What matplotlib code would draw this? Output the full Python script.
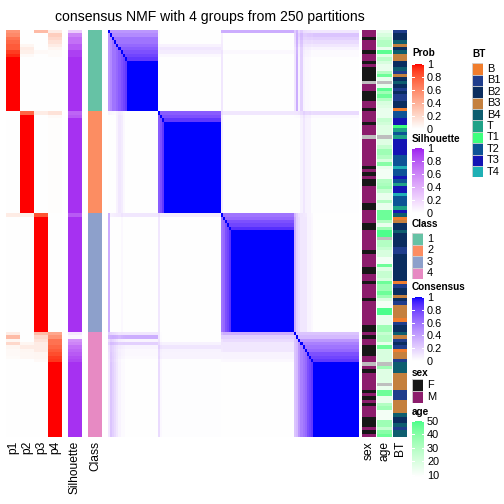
import numpy as np
import matplotlib
matplotlib.use("Agg")
import matplotlib.pyplot as plt
from matplotlib.colors import ListedColormap, to_rgb
from matplotlib.patches import Rectangle

plt.rcParams['font.family'] = ['Liberation Sans', 'DejaVu Sans']

# ---- data (120 samples, ordered as in the heatmap) ----
group_sizes = [24, 30, 35, 31]

p1 = ([0.55, 0.6, 0.7, 0.75, 0.8, 0.8, 0.9, 0.95] + [1.0] * 16
      + [0.0] * 30
      + [0.1] + [0.0] * 34
      + [0.1, 0.35, 0.05, 0.2, 0.05, 0.03, 0.03, 0.02, 0.0] + [0.0] * 22)
p2 = ([0.0, 0.0, 0.0, 0.0, 0.05, 0.1, 0.08, 0.03] + [0.0] * 16
      + [0.75] + [1.0] * 29
      + [0.08] + [0.0] * 34
      + [0.0, 0.0, 0.0, 0.05, 0.1, 0.05, 0.04, 0.04, 0.0] + [0.0] * 22)
p3 = ([0.35, 0.0, 0.0, 0.0, 0.0, 0.0, 0.03, 0.0] + [0.0] * 16
      + [0.1] + [0.0] * 29
      + [0.82] + [1.0] * 34
      + [0.35, 0.2, 0.15, 0.1, 0.1, 0.1, 0.05, 0.05, 0.03] + [0.0] * 22)
p4 = ([0.1, 0.25, 0.2, 0.15, 0.1, 0.05, 0.02, 0.02] + [0.0] * 16
      + [0.15, 0.03] + [0.01] * 28
      + [0.0] * 35
      + [0.45, 0.55, 0.7, 0.7, 0.75, 0.8, 0.85, 0.9, 0.92] + [1.0] * 22)

silhouette = ([0.25, 0.6, 0.7, 0.7, 0.8, 0.8, 0.9, 0.9] + [0.95] * 16
              + [0.75, 0.8] + [0.95] * 28
              + [0.8] + [0.95] * 34
              + [0.12, 0.05, 0.55, 0.6, 0.7, 0.75, 0.8, 0.85, 0.88] + [0.95] * 22)

# within-class consensus strength of each sample
within_cons = ([0.45, 0.5, 0.6, 0.6, 0.65, 0.7, 0.75, 0.8, 0.85] + [1.0] * 15
               + [0.7, 0.75, 0.85] + [1.0] * 27
               + [0.6, 0.65, 0.75, 0.8, 0.88] + [1.0] * 30
               + [0.25, 0.3, 0.45, 0.55, 0.6, 0.65, 0.75, 0.8, 0.85] + [1.0] * 22)

sex = ("MMFMMMFMMFMFFFFNMMFFFMMF"
       "MMMFMMMNMMMMMMMM"
       "FMFMFFMMMMMFFMMMMFFM"
       "MMMMMFMMMMFFMMFMMMMF"
       "MMMMMMMFFMFMMFFFMMNM"
       "FMMMMMFMFMFMMMFFFMFM")

nan = np.nan
age = [15, 20, 25, 30, 30, 15, 48, 18, 28, 20, 15, 15, 30, 45, 15, nan, 15, 48, 35, 45, 30, 20, 18, 15,
       15, 15, 25, 22, 18, 18, 18, nan, 18, 18, 25, 35, 35, 30, 20, 40,
       15, 12, 12, 12, 30, 32, 35, 25, 15, 15, 30, 15, 15, 45, 45, 45, 30, 15, 35, 50,
       50, nan, 30, 30, 25, 20, 20, 12, 12, 45, 18, 25, 25, 20, 45, 35, 35, 45, 35, 20,
       12, 12, 50, 50, 15, 15, 15, 35, 35, 25, 30, 30, 15, 45, 20, 20, 20, 20, nan, 35,
       18, 18, 18, 18, nan, 15, 45, 45, 15, 15, 30, 35, 12, 12, 12, 35, 35, 25, 40, 45]

bt = ["B1", "B2", "B2", "B4", "B3", "B2", "B4", "B3", "B3", "B2", "B2", "B4", "B1", "B3", "B2", "B4",
      "B2", "B1", "B2", "B1", "B1", "B2", "B2", "B",
      "T2", "T2", "T3", "T3", "T1", "T", "T2", "T", "T3", "T3", "T3", "T3", "T3", "T2", "T2", "T2",
      "T4", "T2", "T2", "T3", "T2", "T", "T3", "T3", "T4", "T2", "T2", "T2", "T", "T3",
      "B4", "B", "B3", "B2", "B2", "B4",
      "B2", "B2", "B2", "B2", "B1", "B1", "B2", "B2", "B2", "B2", "B2", "B2", "B2", "B2", "B", "B1",
      "B2", "B2", "B3", "B2",
      "B1", "B3", "B3", "B3", "B3", "B", "B1", "B2", "B2", "B4", "B3", "B1", "B2", "B1", "B", "B3",
      "B3", "B1", "B4", "B4",
      "B4", "B3", "B3", "B3", "B3", "B3", "B1", "B1", "B1", "B3", "B3", "B3", "B3", "B4", "B2", "B2",
      "B4", "B1", "B4", "B4"]

class_colors = ["#66C2A5", "#FC8D62", "#8DA0CB", "#E78AC3"]
sex_colors = {"F": "#171717", "M": "#8C1C6C", "N": "#BEBEBE"}
bt_levels = ["B", "B1", "B2", "B3", "B4", "T", "T1", "T2", "T3", "T4"]
bt_colors = ["#F07D2D", "#1F3D8C", "#0A2D5F", "#C4803E", "#0E5E6F",
             "#1FA287", "#3DFF7D", "#0D5396", "#1414B4", "#1FB0B5"]
age_top = "#4CFF8C"


# ---- colour ramps interpolated in LAB space (like colorRamp2) ----
M_RGB2XYZ = np.array([[0.4124, 0.3576, 0.1805],
                      [0.2126, 0.7152, 0.0722],
                      [0.0193, 0.1192, 0.9505]])
WHITE_XYZ = np.array([0.95047, 1.0, 1.08883])


def rgb2lab(rgb):
    c = np.asarray(rgb, float)
    lin = np.where(c <= 0.04045, c / 12.92, ((c + 0.055) / 1.055) ** 2.4)
    xyz = M_RGB2XYZ @ lin / WHITE_XYZ
    d = 6 / 29
    f = np.where(xyz > d ** 3, np.cbrt(xyz), xyz / (3 * d * d) + 4 / 29)
    return np.array([116 * f[1] - 16, 500 * (f[0] - f[1]), 200 * (f[1] - f[2])])


def lab2rgb(lab):
    L, a, b = lab
    fy = (L + 16) / 116
    f = np.array([fy + a / 500, fy, fy - b / 200])
    d = 6 / 29
    xyz = np.where(f > d, f ** 3, 3 * d * d * (f - 4 / 29)) * WHITE_XYZ
    lin = np.linalg.solve(M_RGB2XYZ, xyz)
    lin = np.clip(lin, 0, 1)
    c = np.where(lin <= 0.0031308, 12.92 * lin, 1.055 * lin ** (1 / 2.4) - 0.055)
    return np.clip(c, 0, 1)


def lab_cmap(c0, c1, n=256):
    l0, l1 = rgb2lab(to_rgb(c0)), rgb2lab(to_rgb(c1))
    return ListedColormap([lab2rgb(l0 + (l1 - l0) * t) for t in np.linspace(0, 1, n)])


prob_cmap = lab_cmap("white", "red")
sil_cmap = lab_cmap("white", "#A020F0")
cons_cmap = lab_cmap("white", "blue")
age_cmap = lab_cmap("white", age_top)
age_cmap.set_bad("#BEBEBE")

# ---- derived tables ----
classes = np.repeat(np.arange(4), group_sizes)
prob = np.column_stack([p1, p2, p3, p4])
cons = prob @ prob.T
wc = np.array(within_cons)
same = classes[:, None] == classes[None, :]
cons[same] = np.minimum(wc[:, None], wc[None, :])[same]
np.fill_diagonal(cons, 1.0)
cons = np.clip(cons, 0, 1)

fig = plt.figure(figsize=(7, 7), dpi=72)
W = H = 504.0


def add_ax(x0, y0, x1, y1):
    ax = fig.add_axes([x0 / W, 1 - y1 / H, (x1 - x0) / W, (y1 - y0) / H])
    ax.set_axis_off()
    return ax


top, bot = 30, 437
kw = dict(aspect="auto", interpolation="nearest")

add_ax(6, top, 62, bot).imshow(prob, cmap=prob_cmap, vmin=0, vmax=1, **kw)
add_ax(68, top, 82, bot).imshow(np.array(silhouette)[:, None], cmap=sil_cmap, vmin=0, vmax=1, **kw)
add_ax(88, top, 102, bot).imshow(classes[:, None], cmap=ListedColormap(class_colors), vmin=-0.5, vmax=3.5, **kw)
add_ax(108, top, 359, bot).imshow(cons, cmap=cons_cmap, vmin=0, vmax=1, **kw)
add_ax(362, top, 376, bot).imshow(np.array([[to_rgb(sex_colors[s])] for s in sex]), **kw)
add_ax(377, top, 392, bot).imshow(np.ma.masked_invalid(np.array(age, float))[:, None],
                                  cmap=age_cmap, vmin=8.5, vmax=50, **kw)
add_ax(393, top, 407, bot).imshow(np.array([[to_rgb(bt_colors[bt_levels.index(b)])] for b in bt]), **kw)

# column labels
for x, lab in [(13, "p1"), (27, "p2"), (41, "p3"), (55, "p4"), (75, "Silhouette"),
               (95, "Class"), (369, "sex"), (384.5, "age"), (400, "BT")]:
    fig.text(x / W, 1 - 441 / H, lab, rotation=90, ha="center", va="top", fontsize=12)

fig.text(210 / W, 1 - 17 / H, "consensus NMF with 4 groups from 250 partitions",
         ha="center", va="center", fontsize=14)


# ---- legends ----
def bar_legend(title, y_title, y0, y1, cmap, vmin, vmax, ticks, labels):
    fig.text(412 / W, 1 - y_title / H, title, ha="left", va="bottom", fontsize=10, fontweight="bold")
    ax = fig.add_axes([412 / W, 1 - y1 / H, 12 / W, (y1 - y0) / H])
    grad = np.linspace(vmax, vmin, 100)[:, None]
    ax.imshow(grad, cmap=cmap, vmin=vmin, vmax=vmax, aspect="auto", extent=[0, 1, vmin, vmax])
    for t in ticks:
        ax.plot([0, 0.2], [t, t], color="white", lw=1)
        ax.plot([0.8, 1], [t, t], color="white", lw=1)
    ax.set_xlim(0, 1)
    ax.set_ylim(vmin, vmax)
    ax.set_xticks([])
    ax.yaxis.tick_right()
    ax.set_yticks(ticks, labels)
    ax.tick_params(axis="y", length=0, pad=3, labelsize=11)
    for s in ax.spines.values():
        s.set_visible(False)


def box_legend(title, x, y_title, y_first, step, colors, labels):
    fig.text(x / W, 1 - y_title / H, title, ha="left", va="bottom", fontsize=10, fontweight="bold")
    k = len(colors)
    ax = fig.add_axes([x / W, 1 - (y_first - step / 2 + k * step) / H, 11 / W, k * step / H])
    ax.set_axis_off()
    ax.set_xlim(0, 1)
    ax.set_ylim(k, 0)
    for i, c in enumerate(colors):
        ax.add_patch(Rectangle((0, i), 1, 1, facecolor=c, edgecolor="#D0D0D0", lw=0.8))
        fig.text((x + 15) / W, 1 - (y_first + i * step) / H, labels[i], ha="left", va="center", fontsize=11)


ticks01 = [0, 0.2, 0.4, 0.6, 0.8, 1]
labs01 = ["0", "0.2", "0.4", "0.6", "0.8", "1"]
bar_legend("Prob", 58, 64, 129, prob_cmap, 0, 1, ticks01, labs01)
bar_legend("Silhouette", 144, 148, 213, sil_cmap, 0, 1, ticks01, labs01)
box_legend("Class", 412, 229, 239, 11.4, class_colors, ["1", "2", "3", "4"])
bar_legend("Consensus", 292, 297, 361, cons_cmap, 0, 1, ticks01, labs01)
box_legend("sex", 412, 378, 385, 12, [sex_colors["F"], sex_colors["M"]], ["F", "M"])
bar_legend("age", 417, 421, 477, age_cmap, 8.5, 50, [10, 20, 30, 40, 50], ["10", "20", "30", "40", "50"])
box_legend("BT", 472, 59, 69, 11.4, bt_colors, bt_levels)

fig.savefig("out.png", dpi=72)
